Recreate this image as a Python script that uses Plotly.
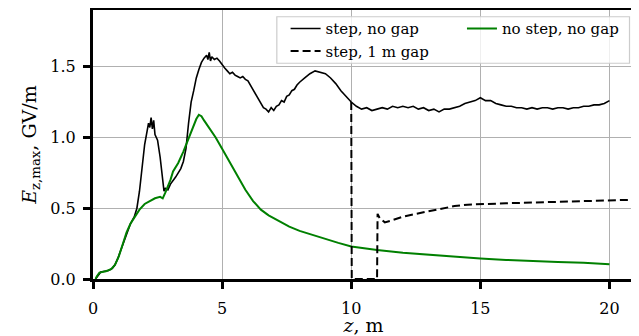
import plotly.graph_objects as go

# --- step, no gap (black solid) ---
z_step = [0.10, 0.20, 0.30, 0.45, 0.60, 0.75, 0.85, 0.95, 1.05, 1.15, 1.30, 1.45, 1.60,
          1.70, 1.80, 1.90, 2.00, 2.10, 2.15, 2.20, 2.25, 2.30, 2.35, 2.40, 2.50, 2.60,
          2.70, 2.75, 2.80, 2.90, 3.00, 3.10, 3.20, 3.30, 3.40, 3.50, 3.60, 3.70, 3.80,
          3.90, 4.00, 4.10, 4.20, 4.30, 4.40, 4.45, 4.50, 4.55, 4.60, 4.70, 4.80, 4.90,
          5.00, 5.10, 5.20, 5.30, 5.40, 5.50, 5.60, 5.70, 5.80, 5.90, 6.00, 6.10, 6.20,
          6.30, 6.40, 6.50, 6.60, 6.70, 6.80, 6.90, 7.00, 7.10, 7.20, 7.30, 7.40, 7.50,
          7.60, 7.70, 7.80, 7.90, 8.00, 8.20, 8.40, 8.60, 8.80, 9.00, 9.20, 9.40, 9.60,
          9.80, 10.00, 10.20, 10.40, 10.60, 10.80, 11.00, 11.20, 11.40, 11.60, 11.80,
          12.00, 12.20, 12.40, 12.60, 12.80, 13.00, 13.20, 13.40, 13.60, 13.80, 14.00,
          14.20, 14.40, 14.60, 14.80, 15.00, 15.20, 15.40, 15.60, 15.80, 16.00, 16.20,
          16.40, 16.60, 16.80, 17.00, 17.20, 17.40, 17.60, 17.80, 18.00, 18.20, 18.40,
          18.60, 18.80, 19.00, 19.20, 19.40, 19.60, 19.80, 20.00]
e_step = [0.00, 0.03, 0.05, 0.055, 0.06, 0.075, 0.10, 0.14, 0.19, 0.25, 0.33, 0.39, 0.44,
          0.50, 0.62, 0.80, 0.95, 1.05, 1.10, 1.07, 1.14, 1.06, 1.12, 1.02, 0.98, 0.86,
          0.70, 0.62, 0.64, 0.63, 0.67, 0.70, 0.72, 0.75, 0.78, 0.83, 0.92, 1.10, 1.25,
          1.33, 1.42, 1.48, 1.53, 1.56, 1.58, 1.55, 1.60, 1.54, 1.57, 1.55, 1.56, 1.54,
          1.51, 1.49, 1.47, 1.45, 1.46, 1.44, 1.43, 1.42, 1.43, 1.41, 1.40, 1.37, 1.34,
          1.31, 1.27, 1.24, 1.21, 1.20, 1.18, 1.21, 1.19, 1.22, 1.23, 1.26, 1.25, 1.29,
          1.30, 1.33, 1.34, 1.37, 1.39, 1.42, 1.45, 1.47, 1.46, 1.45, 1.42, 1.38, 1.33,
          1.29, 1.25, 1.22, 1.20, 1.21, 1.19, 1.20, 1.21, 1.20, 1.22, 1.21,
          1.22, 1.21, 1.22, 1.20, 1.21, 1.19, 1.20, 1.18, 1.20, 1.20, 1.21,
          1.22, 1.24, 1.25, 1.26, 1.28, 1.26, 1.26, 1.24, 1.23, 1.22, 1.22,
          1.21, 1.21, 1.20, 1.21, 1.20, 1.21, 1.21, 1.20, 1.21, 1.21, 1.20,
          1.21, 1.21, 1.22, 1.22, 1.23, 1.23, 1.24, 1.26]

# --- step, 1 m gap (black dashed, after z = 10 m) ---
z_gap = [10.00, 10.02, 11.00, 11.02, 11.10, 11.30, 11.50, 12.00, 12.50, 13.00, 13.50,
         14.00, 14.50, 15.00, 16.00, 17.00, 18.00, 19.00, 20.00, 20.95]
e_gap = [1.25, 0.00, 0.00, 0.46, 0.43, 0.40, 0.41, 0.44, 0.46, 0.48, 0.50,
         0.515, 0.525, 0.53, 0.535, 0.54, 0.545, 0.55, 0.55, 0.56]

# --- no step, no gap (green) ---
z_flat = [0.10, 0.15, 0.25, 0.50, 0.70, 0.85, 1.00, 1.15, 1.30, 1.45, 1.60, 1.80, 2.00,
          2.20, 2.40, 2.60, 2.70, 2.80, 3.00, 3.10, 3.20, 3.30, 3.50, 3.70, 3.85, 4.00,
          4.10, 4.20, 4.30, 4.50, 4.75, 5.00, 5.30, 5.60, 5.90, 6.20, 6.50, 6.80, 7.20,
          7.60, 8.00, 8.50, 9.00, 9.50, 10.00, 10.50, 11.00, 12.00, 13.00, 14.00, 15.00,
          16.00, 17.00, 18.00, 19.00, 20.00]
e_flat = [0.00, 0.02, 0.045, 0.055, 0.07, 0.10, 0.16, 0.25, 0.33, 0.39, 0.43, 0.49, 0.53,
          0.55, 0.57, 0.58, 0.57, 0.61, 0.70, 0.76, 0.79, 0.82, 0.90, 0.99, 1.07, 1.13,
          1.16, 1.15, 1.12, 1.07, 1.00, 0.92, 0.82, 0.72, 0.63, 0.55, 0.49, 0.45, 0.41,
          0.37, 0.34, 0.31, 0.28, 0.255, 0.23, 0.215, 0.205, 0.185, 0.17, 0.155, 0.145,
          0.135, 0.125, 0.12, 0.115, 0.105]

x_ticks = [0, 5, 10, 15, 20]
y_ticks = [0.0, 0.5, 1.0, 1.5]
y_ticklabels = ["0.0", "0.5", "1.0", "1.5"]

FONT = "DejaVu Serif"

fig = go.Figure()
fig.add_trace(go.Scatter(x=z_step, y=e_step, mode="lines", name="step, no gap",
                         line=dict(color="black", width=1.6), legend="legend"))
fig.add_trace(go.Scatter(x=z_flat, y=e_flat, mode="lines", name="no step, no gap",
                         line=dict(color="#008000", width=2), legend="legend2"))
fig.add_trace(go.Scatter(x=z_gap, y=e_gap, mode="lines", name="step, 1 m gap",
                         line=dict(color="black", width=2, dash="8px,4px"), legend="legend"))

axis_common = dict(
    showline=True, linecolor="black", linewidth=3, mirror=True,
    ticks="outside", ticklen=7, tickwidth=3, tickcolor="black",
    showgrid=True, gridcolor="#b0b0b0", gridwidth=1,
    zeroline=False, automargin=False,
    tickfont=dict(family=FONT, size=16, color="black"),
)

fig.update_xaxes(range=[0, 20.95], tickvals=x_ticks, ticklabelstandoff=6,
                 title=dict(text="<i>z</i>, m", font=dict(family=FONT, size=19, color="black"),
                            standoff=13),
                 **axis_common)
fig.update_yaxes(range=[0, 1.9], tickvals=y_ticks, ticktext=y_ticklabels, ticklabelstandoff=4,
                 title=dict(text="<i>E</i><sub>z,max</sub>, GV/m",
                            font=dict(family=FONT, size=19, color="black"), standoff=9),
                 **axis_common)

# the page body keeps an 8 px margin, so the figure is 8 px smaller and shifted
leg_font = dict(family=FONT, size=15, color="black")
fig.update_layout(
    width=631, height=328,
    margin=dict(l=85, r=4.5, t=2, b=56.7),
    font=dict(family=FONT, color="black"),
    plot_bgcolor="white", paper_bgcolor="white",
    legend=dict(x=0.356, y=0.9915, xanchor="left", yanchor="top",
                bgcolor="rgba(0,0,0,0)", borderwidth=0, font=leg_font,
                tracegroupgap=0),
    legend2=dict(x=0.682, y=0.9915, xanchor="left", yanchor="top",
                 bgcolor="rgba(0,0,0,0)", borderwidth=0, font=leg_font),
    shapes=[dict(type="rect", xref="paper", yref="paper",
                 x0=0.3398, x1=0.9917, y0=0.802, y1=0.975, layer="above",
                 line=dict(color="#cccccc", width=1.2),
                 fillcolor="rgba(255,255,255,0.8)")],
)

fig.write_html("out.html")
